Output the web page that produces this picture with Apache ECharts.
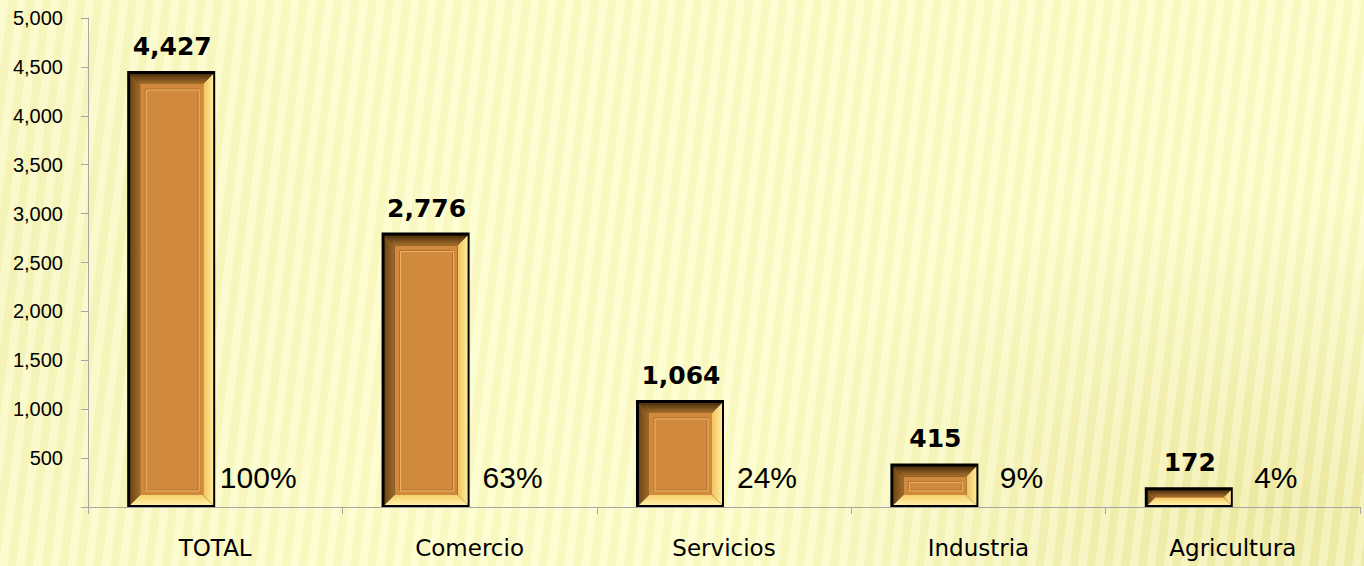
<!DOCTYPE html>
<html>
<head>
<meta charset="utf-8">
<script src="https://cdn.jsdelivr.net/npm/echarts@6/dist/echarts.min.js"></script>
<style>
  html, body { margin: 0; padding: 0; }
  #chart {
    width: 1364px; height: 566px;
    background:
      repeating-linear-gradient(97deg, rgba(255,255,230,0.35) 0px, rgba(255,255,230,0.35) 8px, rgba(225,220,140,0.13) 9px, rgba(225,220,140,0.13) 17px),
      radial-gradient(ellipse 40% 55% at 94% 90%, #EEE9A2 0%, #F6F4BA 55%, rgba(252,252,200,0) 100%),
      radial-gradient(ellipse 30% 80% at 0% 50%, #F6F5BC 0%, rgba(252,252,200,0) 100%),
      #FCFCC8;
  }
</style>
</head>
<body>
<div id="chart"></div>
<script>
// datos
let categorias = ['TOTAL', 'Comercio', 'Servicios', 'Industria', 'Agricultura'];
let valores = [4427, 2776, 1064, 415, 172];
let porcentajes = ['100%', '63%', '24%', '9%', '4%'];

let fmt = function (v) {
    return String(v).replace(/\B(?=(\d{3})+(?!\d))/g, ',');
};

let chart = echarts.init(document.getElementById('chart'), null, {renderer: 'svg'});

// barra con bisel (como en Excel)
function renderBar(params, api) {
    let idx = api.value(0);
    let val = api.value(1);
    let top = api.coord([idx, val]);
    let base = api.coord([idx, 0]);
    let band = api.size([1, 0])[0];
    let w = band * 0.346;
    let x = top[0] - w;
    let y = top[1] - 3;
    let h = base[1] - y;
    let b = Math.min(10, (h - 6) / 2); // ancho del bisel
    let ix = x + 3, iy = y + 3, iw = w - 5, ih = h - 5;
    let kids = [
        // borde negro
        {type: 'rect', shape: {x: x, y: y, width: w, height: h}, style: {fill: '#000'}},
        // bisel superior
        {type: 'polygon', shape: {points: [[ix, iy], [ix + iw, iy], [ix + iw - b, iy + b], [ix + b, iy + b]]},
            style: {fill: new echarts.graphic.LinearGradient(0, 0, 0, 1, [{offset: 0, color: '#4A2E0C'}, {offset: 1, color: '#A8702C'}])}},
        // bisel izquierdo
        {type: 'polygon', shape: {points: [[ix, iy], [ix + b, iy + b], [ix + b, iy + ih - b], [ix, iy + ih]]},
            style: {fill: new echarts.graphic.LinearGradient(0, 0, 1, 0, [{offset: 0, color: '#6E4714'}, {offset: 1, color: '#A06A2A'}])}},
        // bisel derecho
        {type: 'polygon', shape: {points: [[ix + iw, iy], [ix + iw, iy + ih], [ix + iw - b, iy + ih - b], [ix + iw - b, iy + b]]},
            style: {fill: new echarts.graphic.LinearGradient(0, 0, 1, 0, [{offset: 0, color: '#F2C45E'}, {offset: 1, color: '#FFEB98'}])}},
        // bisel inferior
        {type: 'polygon', shape: {points: [[ix, iy + ih], [ix + b, iy + ih - b], [ix + iw - b, iy + ih - b], [ix + iw, iy + ih]]},
            style: {fill: new echarts.graphic.LinearGradient(0, 0, 0, 1, [{offset: 0, color: '#F6CF6A'}, {offset: 1, color: '#FFF1A6'}])}},
        // centro
        {type: 'rect', shape: {x: ix + b, y: iy + b, width: iw - 2 * b, height: Math.max(0, ih - 2 * b)},
            style: {fill: '#D18A3D'}}
    ];
    if (ih - 2 * b > 16) {
        kids.push({type: 'rect', shape: {x: ix + b + 5, y: iy + b + 5, width: iw - 2 * b - 10, height: ih - 2 * b - 10},
            style: {fill: 'none', stroke: '#B06E2A', lineWidth: 1}});
        kids.push({type: 'rect', shape: {x: ix + b + 6, y: iy + b + 6, width: iw - 2 * b - 10, height: ih - 2 * b - 10},
            style: {fill: 'none', stroke: '#EDB465', lineWidth: 1}});
    }
    // valor encima
    kids.push({type: 'text', style: {
        text: fmt(val), x: x + w / 2 + 1, y: y - 12, align: 'center', verticalAlign: 'bottom',
        fill: '#000', font: 'bold 25px "DejaVu Sans"'}});
    // porcentaje a la derecha
    kids.push({type: 'text', style: {
        text: porcentajes[idx], x: x + w * 1.5 - 1, y: base[1] - 15, align: 'center', verticalAlign: 'bottom',
        fill: '#000', font: '30px "Liberation Sans"'}});
    return {type: 'group', children: kids};
}

chart.setOption({
    backgroundColor: 'transparent',
    animation: false,
    grid: {left: 88, right: 4, top: 18, bottom: 59},
    xAxis: {
        type: 'category',
        data: categorias,
        axisLine: {lineStyle: {color: '#A6A6A6', width: 1}},
        axisTick: {show: true, length: 7, lineStyle: {color: '#A6A6A6'}},
        axisLabel: {color: '#000', fontSize: 23, fontFamily: 'DejaVu Sans', margin: 29}
    },
    yAxis: {
        type: 'value',
        min: 0, max: 5000, interval: 500,
        splitLine: {show: false},
        axisLine: {show: true, lineStyle: {color: '#A6A6A6', width: 1}},
        axisTick: {show: true, length: 7, lineStyle: {color: '#A6A6A6'}},
        axisLabel: {
            color: '#000', fontSize: 20, fontFamily: 'Liberation Sans', margin: 25,
            formatter: function (v) { return v === 0 ? '' : fmt(v); }
        }
    },
    series: [{
        type: 'custom',
        renderItem: renderBar,
        encode: {x: 0, y: 1},
        data: valores.map(function (v, i) { return [i, v]; })
    }]
});
</script>
</body>
</html>
